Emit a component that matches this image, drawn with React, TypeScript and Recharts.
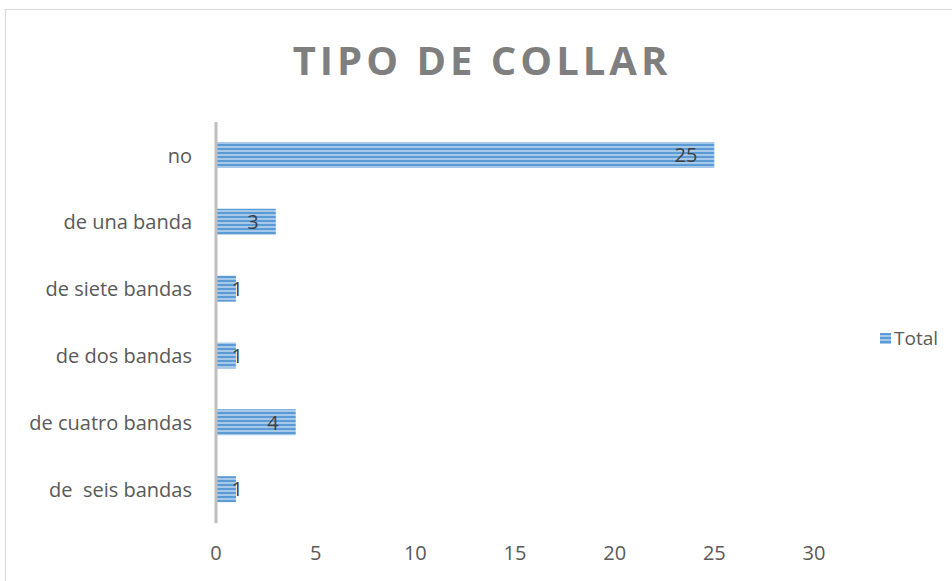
import React from 'react';
import { BarChart, Bar, XAxis, YAxis, LabelList } from 'recharts';

const categories = ['no', 'de una banda', 'de siete bandas', 'de dos bandas', 'de cuatro bandas', 'de  seis bandas'];
const totals = [25, 3, 1, 1, 4, 1];
const xTicks = [0, 5, 10, 15, 20, 25, 30];

const data = categories.map((name, i) => ({ name, Total: totals[i] }));

const FONT = '"Open Sans", "Noto Sans", sans-serif';
const TEXT = '#595959';

const ValueLabel = (props: any) => {
  const { x, y, width, height, value } = props;
  const end = Math.max(x + width - 17, x + 27);
  return (
    <text x={end} y={y + height / 2} dy="0.36em" textAnchor="end" fontSize={20} fill="#404040" fontFamily={FONT}>
      {value}
    </text>
  );
};

// keeps the double space in "de  seis bandas"
const CategoryTick = (props: any) => {
  const { x, y, payload } = props;
  return (
    <text x={x} y={y} dy="0.36em" textAnchor="end" fontSize={20} fill={TEXT} fontFamily={FONT} style={{ whiteSpace: 'pre' }}>
      {payload.value}
    </text>
  );
};

export default function App() {
  return (
    <div style={{ position: 'absolute', left: 0, top: 0, width: 952, height: 581, overflow: 'hidden', background: '#fff' }}>
      <div style={{ position: 'absolute', left: 5, top: 9, width: 1000, height: 700, border: '1.5px solid #d9d9d9' }} />
      <div
        style={{
          position: 'absolute', left: 0, top: 36, width: 964, textAlign: 'center',
          fontFamily: FONT, fontWeight: 700, fontSize: 40, letterSpacing: 4, color: '#7f7f7f', lineHeight: '48px',
        }}
      >
        TIPO DE COLLAR
      </div>
      <div style={{ position: 'absolute', left: 0, top: 0 }}>
        <BarChart width={952} height={581} data={data} layout="vertical" margin={{ top: 122, right: 138, bottom: 0, left: 0 }}>
          <defs>
            <pattern id="stripes" patternUnits="userSpaceOnUse" width={8} height={4}>
              <rect x={0} y={0} width={8} height={4} fill="#a6c9ea" />
              <rect x={0} y={0} width={8} height={2} fill="#5b9bd5" />
            </pattern>
          </defs>
          <XAxis
            type="number"
            domain={[0, 30]}
            ticks={xTicks}
            axisLine={false}
            tickLine={false}
            height={58}
            tickMargin={17}
            tick={{ fontSize: 20, fill: TEXT, fontFamily: FONT }}
            interval={0}
          />
          <YAxis
            type="category"
            dataKey="name"
            width={216}
            axisLine={{ stroke: '#bfbfbf', strokeWidth: 3 }}
            tickLine={false}
            tickSize={0}
            tickMargin={24}
            tick={<CategoryTick />}
            interval={0}
          />
          <Bar dataKey="Total" fill="url(#stripes)" barSize={26} isAnimationActive={false}>
            <LabelList dataKey="Total" content={<ValueLabel />} />
          </Bar>
        </BarChart>
      </div>
      <div
        style={{
          position: 'absolute', left: 880, top: 325, display: 'flex', alignItems: 'center',
          fontFamily: FONT, fontSize: 19, color: TEXT, lineHeight: '26px',
        }}
      >
        <svg width={11} height={11} style={{ marginRight: 3 }}>
          <rect x={0} y={0} width={11} height={11} fill="url(#stripes)" />
        </svg>
        Total
      </div>
    </div>
  );
}
